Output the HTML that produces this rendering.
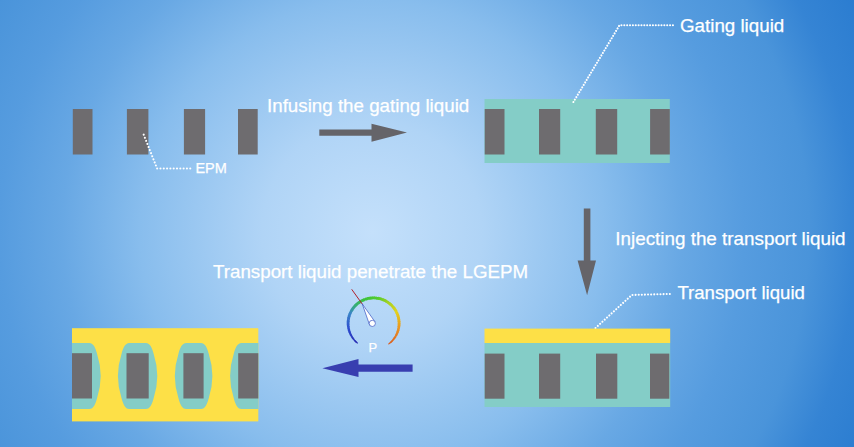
<!DOCTYPE html>
<html><head><meta charset="utf-8">
<style>
html,body{margin:0;padding:0;}
body{width:854px;height:447px;overflow:hidden;background:#4a96dc;}
svg{display:block;font-family:"Liberation Sans",Arial,sans-serif;}
text{fill:#fff;stroke:#fff;stroke-width:0.25px;}
</style></head><body>
<svg width="854" height="447" viewBox="0 0 854 447">
<defs>
<radialGradient id="bg" gradientUnits="userSpaceOnUse" cx="372" cy="232" r="540">
<stop offset="0.000" stop-color="#c4e0fb"/>
<stop offset="0.204" stop-color="#b0d4f6"/>
<stop offset="0.430" stop-color="#88bded"/>
<stop offset="0.574" stop-color="#68a8e4"/>
<stop offset="0.689" stop-color="#569cdf"/>
<stop offset="0.809" stop-color="#4a94da"/>
<stop offset="0.896" stop-color="#3584d4"/>
<stop offset="1.000" stop-color="#2a7cd0"/>
</radialGradient>
<clipPath id="clipBL"><rect x="72" y="328.2" width="186.3" height="93.2"/></clipPath>
</defs>
<rect width="854" height="447" fill="url(#bg)"/>

<!-- top-left EPM -->
<g fill="#6e6c6f">
<rect x="72.8" y="109" width="19.7" height="45.5"/>
<rect x="126.9" y="109" width="21.5" height="45.5"/>
<rect x="183.9" y="109" width="21.2" height="45.5"/>
<rect x="238" y="109" width="19.7" height="45.5"/>
</g>
<polyline points="143.7,134.7 157.1,168.5 191.3,168.5" fill="none" stroke="#fff" stroke-width="2.1" stroke-linecap="round" stroke-linejoin="round" stroke-dasharray="0.01 3.3"/>
<text x="195.4" y="173.2" font-size="14.5">EPM</text>

<text x="267" y="112.3" font-size="18.75">Infusing the gating liquid</text>
<polygon points="319.3,129.4 371.5,129.4 371.5,123.7 407,132.6 371.5,141.7 371.5,135.8 319.3,135.8" fill="#656469"/>

<!-- top-right -->
<rect x="484.5" y="99" width="185.3" height="64" fill="#84cdc7"/>
<g fill="#6e6c6f">
<rect x="484.7" y="109" width="19.8" height="45.5"/>
<rect x="539" y="109" width="21.2" height="45.5"/>
<rect x="595.8" y="109" width="21.4" height="45.5"/>
<rect x="650.1" y="109" width="19.7" height="45.5"/>
</g>
<polyline points="573.4,102 619.5,25.2 673.6,25.2" fill="none" stroke="#fff" stroke-width="2.1" stroke-linecap="round" stroke-linejoin="round" stroke-dasharray="0.01 2.85"/>
<text x="680" y="32.3" font-size="18.75">Gating liquid</text>

<!-- down arrow -->
<polygon points="583.8,208.4 590.4,208.4 590.4,260.5 596,260.5 587.1,295.2 577.6,260.5 583.8,260.5" fill="#656469"/>
<text x="615.3" y="245.3" font-size="18.83">Injecting the transport liquid</text>
<text x="677.4" y="298.7" font-size="18.6">Transport liquid</text>
<polyline points="595.5,328 631.8,295 672.3,293.9" fill="none" stroke="#fff" stroke-width="2.1" stroke-linecap="round" stroke-linejoin="round" stroke-dasharray="0.01 3.1"/>

<!-- bottom-right -->
<rect x="484.5" y="343" width="185.7" height="64" fill="#84cdc7"/>
<rect x="484.5" y="328.6" width="185.7" height="14.4" fill="#fde047"/>
<g fill="#6e6c6f">
<rect x="484.7" y="353.6" width="19.8" height="45.1"/>
<rect x="539" y="353.6" width="21.2" height="45.1"/>
<rect x="596" y="353.6" width="21.3" height="45.1"/>
<rect x="650" y="353.6" width="19.3" height="45.1"/>
</g>

<text x="213" y="278.1" font-size="18.75">Transport liquid penetrate the LGEPM</text>

<!-- gauge -->
<g fill="none"><path d="M357.73,343.36 A25.5,25.5 0 0 1 355.90,341.75" stroke="#262ab2" stroke-width="1.18"/><path d="M356.38,342.21 A25.5,25.5 0 0 1 354.67,340.48" stroke="#272db5" stroke-width="1.38"/><path d="M355.12,340.97 A25.5,25.5 0 0 1 353.53,339.13" stroke="#2731b8" stroke-width="1.54"/><path d="M353.95,339.65 A25.5,25.5 0 0 1 352.49,337.70" stroke="#2835bb" stroke-width="1.69"/><path d="M352.87,338.25 A25.5,25.5 0 0 1 351.55,336.20" stroke="#2938be" stroke-width="1.82"/><path d="M351.89,336.78 A25.5,25.5 0 0 1 350.71,334.65" stroke="#293cc1" stroke-width="1.94"/><path d="M351.02,335.24 A25.5,25.5 0 0 1 349.99,333.03" stroke="#2a3fc4" stroke-width="2.06"/><path d="M350.25,333.65 A25.5,25.5 0 0 1 349.38,331.37" stroke="#2a43c7" stroke-width="2.17"/><path d="M349.60,332.01 A25.5,25.5 0 0 1 348.88,329.68" stroke="#2b46ca" stroke-width="2.28"/><path d="M349.06,330.32 A25.5,25.5 0 0 1 348.51,327.95" stroke="#2c4acd" stroke-width="2.38"/><path d="M348.64,328.60 A25.5,25.5 0 0 1 348.25,326.20" stroke="#2d4fcf" stroke-width="2.48"/><path d="M348.34,326.86 A25.5,25.5 0 0 1 348.12,324.44" stroke="#2e55ce" stroke-width="2.58"/><path d="M348.16,325.10 A25.5,25.5 0 0 1 348.11,322.67" stroke="#305ccd" stroke-width="2.68"/><path d="M348.10,323.34 A25.5,25.5 0 0 1 348.22,320.91" stroke="#3163cc" stroke-width="2.77"/><path d="M348.17,321.57 A25.5,25.5 0 0 1 348.46,319.15" stroke="#3369cb" stroke-width="2.80"/><path d="M348.35,319.81 A25.5,25.5 0 0 1 348.81,317.42" stroke="#3570cb" stroke-width="2.80"/><path d="M348.66,318.07 A25.5,25.5 0 0 1 349.28,315.72" stroke="#3676ca" stroke-width="2.80"/><path d="M349.09,316.36 A25.5,25.5 0 0 1 349.87,314.05" stroke="#387dc9" stroke-width="2.80"/><path d="M349.64,314.68 A25.5,25.5 0 0 1 350.58,312.43" stroke="#3983c8" stroke-width="2.80"/><path d="M350.30,313.04 A25.5,25.5 0 0 1 351.39,310.86" stroke="#398bbe" stroke-width="2.80"/><path d="M351.07,311.45 A25.5,25.5 0 0 1 352.32,309.36" stroke="#3893ae" stroke-width="2.80"/><path d="M351.96,309.92 A25.5,25.5 0 0 1 353.34,307.92" stroke="#379b9e" stroke-width="2.80"/><path d="M352.94,308.45 A25.5,25.5 0 0 1 354.46,306.55" stroke="#36a38e" stroke-width="2.80"/><path d="M354.03,307.06 A25.5,25.5 0 0 1 355.67,305.26" stroke="#35ab7f" stroke-width="2.80"/><path d="M355.21,305.74 A25.5,25.5 0 0 1 356.97,304.07" stroke="#36b072" stroke-width="2.80"/><path d="M356.47,304.51 A25.5,25.5 0 0 1 358.35,302.96" stroke="#37b369" stroke-width="2.80"/><path d="M357.82,303.37 A25.5,25.5 0 0 1 359.81,301.95" stroke="#38b65f" stroke-width="2.80"/><path d="M359.25,302.32 A25.5,25.5 0 0 1 361.32,301.05" stroke="#39b956" stroke-width="2.80"/><path d="M360.74,301.38 A25.5,25.5 0 0 1 362.90,300.25" stroke="#3abd4c" stroke-width="2.80"/><path d="M362.30,300.54 A25.5,25.5 0 0 1 364.53,299.57" stroke="#3bc043" stroke-width="2.80"/><path d="M363.91,299.81 A25.5,25.5 0 0 1 366.20,299.00" stroke="#3dc23b" stroke-width="2.80"/><path d="M365.57,299.20 A25.5,25.5 0 0 1 367.91,298.54" stroke="#40c439" stroke-width="2.80"/><path d="M367.26,298.70 A25.5,25.5 0 0 1 369.65,298.21" stroke="#43c537" stroke-width="2.80"/><path d="M368.99,298.32 A25.5,25.5 0 0 1 371.40,297.99" stroke="#46c635" stroke-width="2.80"/><path d="M370.74,298.06 A25.5,25.5 0 0 1 373.17,297.90" stroke="#48c833" stroke-width="2.80"/><path d="M372.50,297.92 A25.5,25.5 0 0 1 374.93,297.93" stroke="#4bc931" stroke-width="2.80"/><path d="M374.27,297.91 A25.5,25.5 0 0 1 376.70,298.09" stroke="#4eca2f" stroke-width="2.80"/><path d="M376.03,298.02 A25.5,25.5 0 0 1 378.44,298.36" stroke="#51cc2d" stroke-width="2.80"/><path d="M377.78,298.25 A25.5,25.5 0 0 1 380.16,298.76" stroke="#5bcd2b" stroke-width="2.80"/><path d="M379.52,298.60 A25.5,25.5 0 0 1 381.86,299.27" stroke="#67cd2a" stroke-width="2.80"/><path d="M381.22,299.07 A25.5,25.5 0 0 1 383.51,299.90" stroke="#73ce28" stroke-width="2.80"/><path d="M382.89,299.65 A25.5,25.5 0 0 1 385.11,300.65" stroke="#80cf27" stroke-width="2.80"/><path d="M384.51,300.35 A25.5,25.5 0 0 1 386.66,301.50" stroke="#8cd025" stroke-width="2.80"/><path d="M386.08,301.16 A25.5,25.5 0 0 1 388.15,302.46" stroke="#98d124" stroke-width="2.80"/><path d="M387.59,302.08 A25.5,25.5 0 0 1 389.56,303.51" stroke="#a4d222" stroke-width="2.80"/><path d="M389.03,303.10 A25.5,25.5 0 0 1 390.90,304.67" stroke="#aed222" stroke-width="2.80"/><path d="M390.40,304.22 A25.5,25.5 0 0 1 392.16,305.91" stroke="#b6d221" stroke-width="2.80"/><path d="M391.69,305.43 A25.5,25.5 0 0 1 393.32,307.24" stroke="#bfd220" stroke-width="2.80"/><path d="M392.89,306.73 A25.5,25.5 0 0 1 394.40,308.64" stroke="#c7d220" stroke-width="2.80"/><path d="M394.00,308.10 A25.5,25.5 0 0 1 395.37,310.12" stroke="#d0d21f" stroke-width="2.80"/><path d="M395.01,309.55 A25.5,25.5 0 0 1 396.24,311.66" stroke="#d9d21f" stroke-width="2.80"/><path d="M395.92,311.07 A25.5,25.5 0 0 1 396.99,313.25" stroke="#e1d21e" stroke-width="2.80"/><path d="M396.72,312.65 A25.5,25.5 0 0 1 397.64,314.90" stroke="#e3cc1e" stroke-width="2.80"/><path d="M397.41,314.27 A25.5,25.5 0 0 1 398.17,316.59" stroke="#e4c51e" stroke-width="2.80"/><path d="M397.99,315.94 A25.5,25.5 0 0 1 398.59,318.30" stroke="#e4bf1f" stroke-width="2.80"/><path d="M398.44,317.65 A25.5,25.5 0 0 1 398.88,320.05" stroke="#e5b81f" stroke-width="2.80"/><path d="M398.78,319.39 A25.5,25.5 0 0 1 399.05,321.81" stroke="#e6b11f" stroke-width="2.80"/><path d="M399.00,321.14 A25.5,25.5 0 0 1 399.10,323.57" stroke="#e7ab1f" stroke-width="2.80"/><path d="M399.10,322.91 A25.5,25.5 0 0 1 399.03,325.34" stroke="#e8a41f" stroke-width="2.77"/><path d="M399.07,324.67 A25.5,25.5 0 0 1 398.83,327.10" stroke="#e99d20" stroke-width="2.68"/><path d="M398.92,326.43 A25.5,25.5 0 0 1 398.51,328.83" stroke="#ea9720" stroke-width="2.58"/><path d="M398.65,328.18 A25.5,25.5 0 0 1 398.08,330.55" stroke="#e99120" stroke-width="2.48"/><path d="M398.26,329.90 A25.5,25.5 0 0 1 397.52,332.23" stroke="#e78c20" stroke-width="2.38"/><path d="M397.75,331.60 A25.5,25.5 0 0 1 396.86,333.86" stroke="#e68720" stroke-width="2.28"/><path d="M397.12,333.25 A25.5,25.5 0 0 1 396.07,335.45" stroke="#e48121" stroke-width="2.17"/><path d="M396.38,334.86 A25.5,25.5 0 0 1 395.19,336.98" stroke="#e37c21" stroke-width="2.06"/><path d="M395.53,336.41 A25.5,25.5 0 0 1 394.19,338.44" stroke="#e17721" stroke-width="1.94"/><path d="M394.58,337.89 A25.5,25.5 0 0 1 393.10,339.83" stroke="#df7221" stroke-width="1.82"/><path d="M393.53,339.31 A25.5,25.5 0 0 1 391.92,341.14" stroke="#de6c21" stroke-width="1.69"/><path d="M392.38,340.65 A25.5,25.5 0 0 1 390.64,342.37" stroke="#dc6722" stroke-width="1.54"/><path d="M391.14,341.91 A25.5,25.5 0 0 1 389.29,343.50" stroke="#da6222" stroke-width="1.38"/><path d="M389.81,343.08 A25.5,25.5 0 0 1 388.41,344.16" stroke="#d95d22" stroke-width="1.18"/></g>
<line x1="351.7" y1="289.3" x2="362.5" y2="304.4" stroke="#b0202c" stroke-width="1"/>
<polygon points="362.2,303.8 375,321.8 369.6,325" fill="#fff" stroke="#3a54c0" stroke-width="0.7" stroke-linejoin="round"/>
<circle cx="372.3" cy="323.4" r="3.1" fill="#fff" stroke="#3a54c0" stroke-width="0.7"/>
<text x="372.8" y="352.4" font-size="13" text-anchor="middle">P</text>

<!-- blue arrow -->
<polygon points="322.4,368.3 358.5,359 358.5,364.5 412.6,364.5 412.6,371.7 358.5,371.7 358.5,377" fill="#383eb0"/>

<!-- bottom-left -->
<rect x="72" y="328.2" width="186.3" height="93.2" fill="#fde047"/>
<g fill="#84cdc7" clip-path="url(#clipBL)">
<path d="M60,343.0 L89.2,343.0 C93.7,343.0 95.50000000000001,348.0 97.10000000000001,354.0 Q100.7,365.0 100.7,375.95 Q100.7,386.9 97.10000000000001,397.9 C95.50000000000001,403.9 93.7,408.9 89.2,408.9 L60,408.9 C55.5,408.9 45.2,403.9 43.6,397.9 Q40,386.9 40,375.95 Q40,365.0 43.6,354.0 C45.2,348.0 55.5,343.0 60,343.0 Z"/>
<path d="M129.4,343.0 L145.8,343.0 C150.3,343.0 152.10000000000002,348.0 153.70000000000002,354.0 Q157.3,365.0 157.3,375.95 Q157.3,386.9 153.70000000000002,397.9 C152.10000000000002,403.9 150.3,408.9 145.8,408.9 L129.4,408.9 C124.9,408.9 123.1,403.9 121.5,397.9 Q117.9,386.9 117.9,375.95 Q117.9,365.0 121.5,354.0 C123.1,348.0 124.9,343.0 129.4,343.0 Z"/>
<path d="M186.3,343.0 L200.9,343.0 C205.4,343.0 207.20000000000002,348.0 208.8,354.0 Q212.4,365.0 212.4,375.95 Q212.4,386.9 208.8,397.9 C207.20000000000002,403.9 205.4,408.9 200.9,408.9 L186.3,408.9 C181.8,408.9 180.0,403.9 178.4,397.9 Q174.8,386.9 174.8,375.95 Q174.8,365.0 178.4,354.0 C180.0,348.0 181.8,343.0 186.3,343.0 Z"/>
<path d="M241.6,343.0 L270,343.0 C274.5,343.0 284.79999999999995,348.0 286.4,354.0 Q290,365.0 290,375.95 Q290,386.9 286.4,397.9 C284.79999999999995,403.9 274.5,408.9 270,408.9 L241.6,408.9 C237.1,408.9 235.29999999999998,403.9 233.7,397.9 Q230.1,386.9 230.1,375.95 Q230.1,365.0 233.7,354.0 C235.29999999999998,348.0 237.1,343.0 241.6,343.0 Z"/>
</g>
<g fill="#6e6c6f">
<rect x="72" y="353.2" width="20" height="45.3"/>
<rect x="126.5" y="353.2" width="22.2" height="45.3"/>
<rect x="183.4" y="353.2" width="20.2" height="45.3"/>
<rect x="238.2" y="353.2" width="20.1" height="45.3"/>
</g>
</svg>
</body></html>
